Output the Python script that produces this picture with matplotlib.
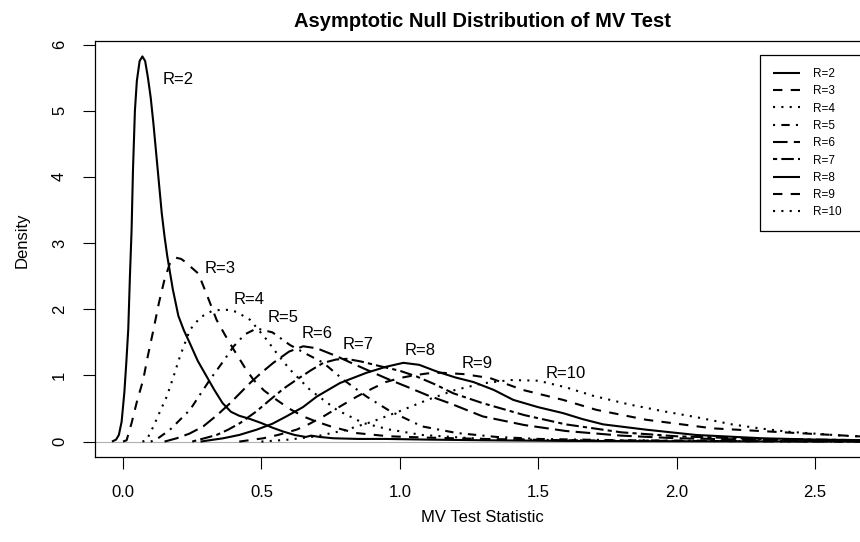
import matplotlib
matplotlib.use("Agg")
import matplotlib.pyplot as plt

plt.rcParams['font.family'] = ['Liberation Sans', 'DejaVu Sans']

# density curves, one pair of lists per R
x2 = [-0.04, -0.025, -0.015, -0.005, 0.005, 0.012, 0.019, 0.025, 0.031, 0.036, 0.043, 0.05, 0.06, 0.07,
      0.08, 0.09, 0.10, 0.11, 0.12, 0.13, 0.14, 0.15, 0.16, 0.18, 0.20, 0.22, 0.24, 0.27, 0.30, 0.33,
      0.36, 0.39, 0.42, 0.46, 0.50, 0.54, 0.58, 0.62, 0.66, 0.68, 0.71, 0.76, 0.85, 0.95, 1.1, 1.3,
      1.6, 2.0, 2.7]
y2 = [0.0, 0.03, 0.1, 0.3, 0.75, 1.2, 1.7, 2.5, 3.2, 4.1, 5.0, 5.45, 5.75, 5.82,
      5.75, 5.5, 5.2, 4.8, 4.35, 3.9, 3.45, 3.1, 2.8, 2.3, 1.9, 1.68, 1.5, 1.22, 1.0, 0.78,
      0.58, 0.45, 0.39, 0.34, 0.28, 0.21, 0.15, 0.1, 0.07, 0.09, 0.07, 0.05, 0.04, 0.04, 0.03, 0.02,
      0.01, 0.005, 0.0]

x3 = [0.0, 0.013, 0.031, 0.05, 0.073, 0.09, 0.11, 0.13, 0.15, 0.17, 0.19, 0.21, 0.23, 0.25, 0.272,
      0.30, 0.338, 0.37, 0.40, 0.44, 0.471, 0.51, 0.555, 0.60, 0.651, 0.70, 0.75, 0.84, 0.96, 1.1,
      1.3, 1.6, 2.0, 2.7]
y3 = [0.0, 0.02, 0.28, 0.6, 0.935, 1.3, 1.69, 2.1, 2.45, 2.7, 2.78, 2.76, 2.7, 2.62, 2.54,
      2.25, 1.84, 1.6, 1.39, 1.12, 0.935, 0.77, 0.63, 0.5, 0.38, 0.3, 0.23, 0.13, 0.08, 0.06,
      0.04, 0.02, 0.01, 0.0]

x4 = [0.07, 0.085, 0.11, 0.13, 0.158, 0.18, 0.206, 0.242, 0.28, 0.32, 0.35, 0.38, 0.41, 0.459, 0.519,
      0.56, 0.603, 0.676, 0.772, 0.868, 0.965, 1.08, 1.3, 1.6, 2.0, 2.7]
y4 = [0.0, 0.02, 0.23, 0.42, 0.68, 0.95, 1.29, 1.69, 1.88, 1.97, 1.99, 1.99, 1.96, 1.84, 1.54,
      1.31, 1.09, 0.78, 0.48, 0.28, 0.18, 0.1, 0.04, 0.02, 0.01, 0.0]

x5 = [0.10, 0.12, 0.17, 0.242, 0.314, 0.36, 0.40, 0.44, 0.483, 0.54, 0.603, 0.66, 0.724, 0.796, 0.88,
      0.965, 1.08, 1.205, 1.35, 1.5, 1.8, 2.2, 2.7]
y5 = [0.0, 0.03, 0.18, 0.48, 0.935, 1.2, 1.44, 1.62, 1.71, 1.65, 1.46, 1.33, 1.19, 0.935, 0.68,
      0.46, 0.23, 0.13, 0.07, 0.04, 0.02, 0.01, 0.0]

x6 = [0.15, 0.194, 0.24, 0.29, 0.34, 0.387, 0.42, 0.459, 0.50, 0.543, 0.60, 0.651, 0.70, 0.772, 0.84,
      0.905, 0.96, 1.025, 1.10, 1.18, 1.30, 1.45, 1.6, 1.8, 2.0, 2.4, 2.7]
y6 = [0.0, 0.05, 0.12, 0.23, 0.4, 0.58, 0.72, 0.885, 1.04, 1.19, 1.36, 1.44, 1.41, 1.29, 1.16,
      1.04, 0.94, 0.83, 0.7, 0.58, 0.38, 0.25, 0.16, 0.09, 0.05, 0.02, 0.01]

x7 = [0.25, 0.338, 0.38, 0.423, 0.48, 0.531, 0.58, 0.627, 0.68, 0.724, 0.77, 0.808, 0.86, 0.928, 1.0,
      1.06, 1.13, 1.193, 1.30, 1.45, 1.6, 1.8, 2.0, 2.3, 2.7]
y7 = [0.0, 0.1, 0.18, 0.28, 0.45, 0.63, 0.8, 0.935, 1.08, 1.19, 1.24, 1.25, 1.21, 1.14, 1.07,
      0.985, 0.86, 0.73, 0.58, 0.4, 0.26, 0.14, 0.08, 0.04, 0.02]

x8 = [0.28, 0.362, 0.42, 0.483, 0.54, 0.59, 0.65, 0.70, 0.784, 0.88, 0.95, 1.013, 1.07, 1.133, 1.2,
      1.266, 1.34, 1.41, 1.5, 1.59, 1.66, 1.735, 1.89, 2.07, 2.31, 2.5, 2.7]
y8 = [0.0, 0.05, 0.1, 0.18, 0.27, 0.38, 0.52, 0.68, 0.885, 1.04, 1.13, 1.19, 1.16, 1.06, 0.97,
      0.9, 0.78, 0.63, 0.52, 0.43, 0.34, 0.26, 0.18, 0.1, 0.05, 0.03, 0.02]

x9 = [0.42, 0.507, 0.56, 0.627, 0.67, 0.724, 0.78, 0.845, 0.9, 0.95, 1.0, 1.05, 1.1, 1.15, 1.23,
      1.326, 1.445, 1.59, 1.71, 1.89, 2.13, 2.43, 2.7]
y9 = [0.0, 0.05, 0.1, 0.18, 0.26, 0.38, 0.52, 0.68, 0.8, 0.9, 0.96, 1.0, 1.03, 1.04, 1.02,
      0.96, 0.78, 0.63, 0.48, 0.33, 0.2, 0.13, 0.07]

x10 = [0.5, 0.6, 0.7, 0.8, 0.9, 1.0, 1.1, 1.2, 1.3, 1.4, 1.5, 1.6, 1.7, 1.83, 1.95, 2.07, 2.2, 2.3,
       2.4, 2.5, 2.6, 2.7]
y10 = [0.0, 0.03, 0.08, 0.17, 0.3, 0.46, 0.63, 0.78, 0.88, 0.93, 0.92, 0.82, 0.69, 0.56, 0.46, 0.37,
       0.26, 0.2, 0.15, 0.12, 0.09, 0.07]

labels = ["R=2", "R=3", "R=4", "R=5", "R=6", "R=7", "R=8", "R=9", "R=10"]
label_x = [0.20, 0.35, 0.455, 0.58, 0.70, 0.85, 1.073, 1.278, 1.60]
label_y = [5.47, 2.61, 2.14, 1.87, 1.64, 1.46, 1.377, 1.176, 1.026]

xs = [x2, x3, x4, x5, x6, x7, x8, x9, x10]
ys = [y2, y3, y4, y5, y6, y7, y8, y9, y10]

# R line types 1..6, recycled
ltys = [(0, ()), (0, (4.5, 4)), (0, (1, 3)), (0, (1, 3, 4, 3)), (0, (7, 3)), (0, (2, 2, 6, 2))]

fig = plt.figure(figsize=(8.6, 5.42), dpi=100)
ax = fig.add_axes([95 / 860, 1 - 457 / 542, 775 / 860, 416 / 542])

ax.axhline(0, color='#b0b0b0', lw=0.8, zorder=1)
for i in range(len(xs)):
    ax.plot(xs[i], ys[i], color='black', lw=1.5, linestyle=ltys[i % 6], label=labels[i])
    ax.text(label_x[i], label_y[i], labels[i], ha='center', va='center', fontsize=12)

ax.set_xlim(-0.1012, 2.699)
ax.set_ylim(-0.233, 6.053)
ax.set_xticks([0.0, 0.5, 1.0, 1.5, 2.0, 2.5])
ax.set_xticklabels(['0.0', '0.5', '1.0', '1.5', '2.0', '2.5'])
ax.set_yticks([0, 1, 2, 3, 4, 5, 6])
ax.tick_params(direction='out', length=8.6, width=0.8, labelsize=12, pad=11.5)
for t in ax.get_yticklabels():
    t.set_rotation(90)
    t.set_va('center')
for s in ax.spines.values():
    s.set_linewidth(0.9)

ax.set_title('Asymptotic Null Distribution of MV Test', fontweight='bold', fontsize=14.5, pad=10)
ax.set_xlabel('MV Test Statistic', fontsize=12, va='center')
ax.xaxis.set_label_coords(0.5, (457 - 517) / 416)
ax.set_ylabel('Density', fontsize=12, va='center')
ax.yaxis.set_label_coords((22 - 95) / 775, (457 - 240) / 416)

# legend box runs off the right edge of the picture, as in the original
leg = ax.legend(loc='upper left',
                bbox_to_anchor=((760 - 95) / 775, (457 - 229) / 416, (920 - 760) / 775, (229 - 55) / 416),
                mode='expand', borderaxespad=0, fontsize=8.5, handlelength=2.3, handletextpad=1.1,
                labelspacing=0.45, borderpad=1.1, fancybox=False, framealpha=1)
leg.get_frame().set_edgecolor('black')
leg.get_frame().set_linewidth(0.9)

fig.savefig('out.png', dpi=100)
